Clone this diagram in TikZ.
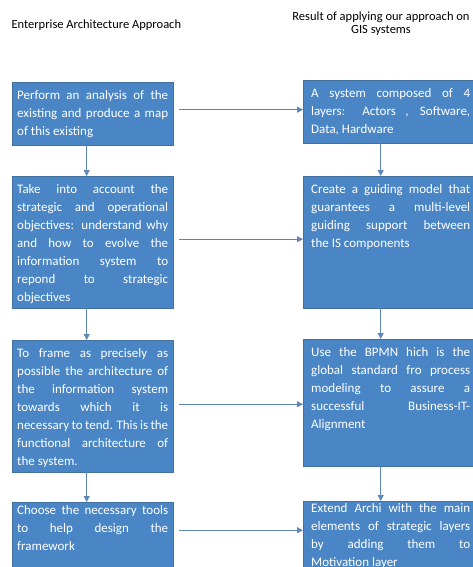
\documentclass[tikz,border=0pt]{standalone}
\usepackage{fontspec}
\setmainfont{Carlito}
\usetikzlibrary{arrows.meta}
\definecolor{boxblue}{HTML}{4A86C6}
\definecolor{boxline}{HTML}{41719C}
\definecolor{linkblue}{HTML}{5E87B5}
\newcommand{\boxtext}[4][0pt]{\parbox[c][#2pt][t]{#3pt}{\vspace*{#1}\strut#4}}
\hyphenpenalty=10000

\begin{document}
\begin{tikzpicture}[x=1pt,y=-1pt,
  stepbox/.style={draw=boxline,fill=boxblue,text=white,anchor=north west,inner sep=5pt,font=\fontsize{13}{18}\selectfont},
  link/.style={draw=linkblue,line width=0.8pt,-{Triangle[length=6pt,width=6pt]}}]
\useasboundingbox (0,0) rectangle (473,567);

\node[anchor=west,font=\fontsize{12.5}{13}\selectfont] (T1) at (8,25) {Enterprise Architecture Approach};
\node[align=center,font=\fontsize{12.5}{13}\selectfont] (T2) at (381,24) {Result of applying our approach on\\GIS systems};

\node[stepbox] (L1) at (12,82) {\boxtext{53}{151}{Perform an analysis of the\linebreak existing and produce a map\linebreak of this existing}};
\node[stepbox] (L2) at (12,176) {\boxtext{122}{151}{Take into account the\linebreak strategic and operational\linebreak objectives: understand why\linebreak and how to evolve the\linebreak information system to\linebreak repond to strategic\linebreak objectives}};
\node[stepbox] (L3) at (12,340) {\boxtext{122}{151}{To frame as precisely as\linebreak possible the architecture of\linebreak the information system\linebreak towards which it is\linebreak necessary to tend. This is the\linebreak functional architecture of\linebreak the system.}};
\node[stepbox] (L4) at (12,502) {\boxtext[-5pt]{78}{151}{Choose the necessary tools\linebreak to help design the\linebreak framework}};

\node[stepbox,inner xsep=8pt] (R1) at (303,80) {\boxtext{53}{159}{A system composed of 4\linebreak layers: Actors , Software,\linebreak Data, Hardware}};
\node[stepbox,inner xsep=8pt] (R2) at (303,176) {\boxtext{122}{159}{Create a guiding model that\linebreak guarantees a multi-level\linebreak guiding support between\linebreak the IS components}};
\node[stepbox,inner xsep=8pt] (R3) at (303,339) {\boxtext{117}{159}{Use the BPMN hich is the\linebreak global standard fro process\linebreak modeling to assure a\linebreak successful Business-IT-\linebreak Alignment}};
\node[stepbox,inner xsep=8pt] (R4) at (303,501) {\boxtext[-6pt]{79}{159}{Extend Archi with the main\linebreak elements of strategic layers\linebreak by adding them to\linebreak Motivation layer}};

\draw[link] ([xshift=-6pt]L1.south) -- ([xshift=-6pt]L1.south |- L2.north);
\draw[link] ([xshift=-6pt]L2.south) -- ([xshift=-6pt]L2.south |- L3.north);
\draw[link] ([xshift=-6pt]L3.south) -- ([xshift=-6pt]L3.south |- L4.north);
\draw[link] ([xshift=-10pt]R1.south) -- ([xshift=-10pt]R1.south |- R2.north);
\draw[link] ([xshift=-10pt]R2.south) -- ([xshift=-10pt]R2.south |- R3.north);
\draw[link] ([xshift=-10pt]R3.south) -- ([xshift=-10pt]R3.south |- R4.north);

\draw[link,shorten <=6pt] ([yshift=4pt]L1.east) -- ([yshift=4pt]L1.east -| R1.west);
\draw[link,shorten <=6pt] ([yshift=3pt]L2.east) -- ([yshift=3pt]L2.east -| R2.west);
\draw[link,shorten <=6pt] ([yshift=2pt]L3.east) -- ([yshift=2pt]L3.east -| R3.west);
\draw[link,shorten <=6pt] ([yshift=16pt]L4.east) -- ([yshift=16pt]L4.east -| R4.west);

\end{tikzpicture}
\end{document}
